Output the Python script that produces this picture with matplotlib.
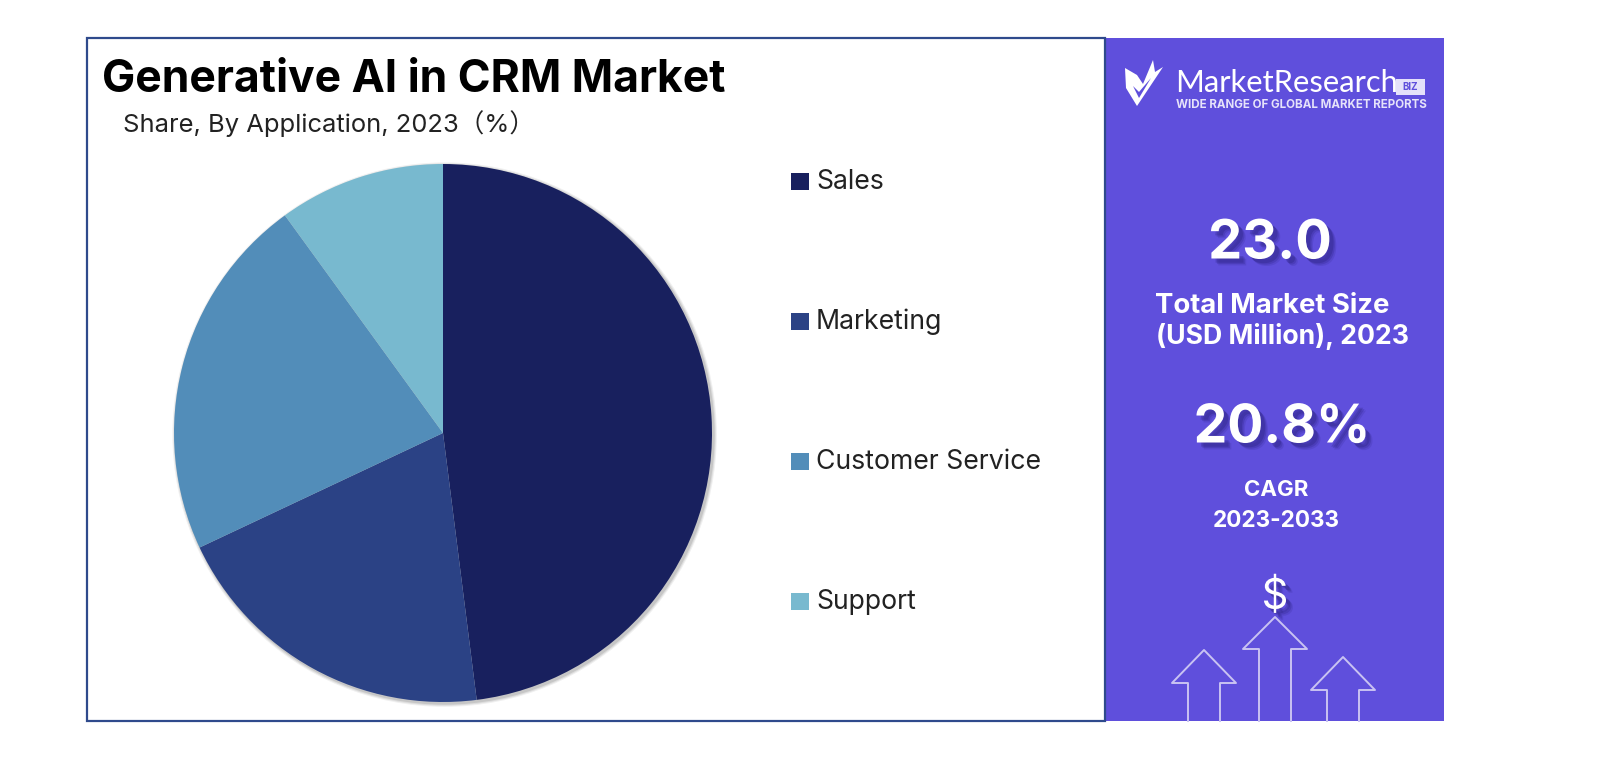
import matplotlib
matplotlib.use('Agg')
import matplotlib.pyplot as plt
import matplotlib.patheffects as pe
from matplotlib.patches import Rectangle, Polygon, Circle

# values
categories = ['Sales', 'Marketing', 'Customer Service', 'Support']
shares = [48, 20, 22, 10]
colors = ['#18205E', '#2B4285', '#528DB9', '#78B9CF']

title = 'Generative AI in CRM Market'
subtitle = 'Share, By Application, 2023（%）'
market_size = '23.0'
market_label = ['Total Market Size', '(USD Million), 2023']
cagr = '20.8%'
cagr_label = ['CAGR', '2023-2033']

plt.rcParams['font.family'] = ['Inter', 'Noto Sans CJK SC', 'DejaVu Sans']

fig = plt.figure(figsize=(16, 7.72), dpi=100, facecolor='white')

# pixel canvas for frame, panel and texts
bg = fig.add_axes([0, 0, 1, 1])
bg.set_xlim(0, 1600)
bg.set_ylim(772, 0)
bg.axis('off')

PURPLE = '#5F4FDC'
bg.add_patch(Rectangle((1106, 38), 338, 683, fc=PURPLE, ec='none'))
bg.add_patch(Rectangle((87, 38), 1018, 683, fc='white', ec='#2F4A8C', lw=1.6))

bg.text(102, 80, title, fontsize=32, fontweight='bold', color='black', va='center', ha='left')
bg.text(123, 124, subtitle, fontsize=18.4, color='#222222', va='center', ha='left')

# pie, with a soft shadow behind the whole disc
cx, cy, r = 443, 433, 269
pie_ax = fig.add_axes([(cx - r) / 1600, 1 - (cy + r) / 772, 2 * r / 1600, 2 * r / 772])
pie_ax.patch.set_alpha(0)
pie_ax.set_clip_on(False)
for grow, a in [(1.012, 0.06), (1.008, 0.08), (1.004, 0.10)]:
    pie_ax.add_patch(Circle((0.006, -0.006), grow, fc='black', ec='none', alpha=a, clip_on=False))
wedges, _ = pie_ax.pie(shares, colors=colors, startangle=90, counterclock=False, radius=1.0,
                       wedgeprops={'linewidth': 0})
pie_ax.set_xlim(-1, 1)
pie_ax.set_ylim(-1, 1)

# legend
legend_y = [181, 321, 461, 601]
for name, col, y in zip(categories, colors, legend_y):
    bg.add_patch(Rectangle((791, y - 8), 18, 17, fc=col, ec='none'))
    bg.text(816, y + 1, name, fontsize=19.2, color='#222222', va='center', ha='left')

# right panel texts, the shadows are soft in the reference
big = [pe.SimplePatchShadow(offset=(5, -5), alpha=0.12, shadow_rgbFace='#1B1464'),
       pe.SimplePatchShadow(offset=(4, -4), alpha=0.18, shadow_rgbFace='#1B1464'),
       pe.SimplePatchShadow(offset=(3, -3), alpha=0.22, shadow_rgbFace='#1B1464'),
       pe.Normal()]
bg.text(1270, 244, market_size, fontsize=39, fontweight='bold', color='white', ha='center', va='center', path_effects=big)
bg.text(1272, 306, market_label[0], fontsize=19.8, fontweight='bold', color='white', ha='center', va='center')
bg.text(1283, 337, market_label[1], fontsize=19.2, fontweight='bold', color='white', ha='center', va='center')
bg.text(1282, 428, cagr, fontsize=38.5, fontweight='bold', color='white', ha='center', va='center', path_effects=big)
bg.text(1276, 490, cagr_label[0], fontsize=16, fontweight='bold', color='white', ha='center', va='center')
bg.text(1276, 521, cagr_label[1], fontsize=16.2, fontweight='bold', color='white', ha='center', va='center')
bg.text(1275, 597, '$', fontsize=30, color='white', ha='center', va='center', path_effects=big)

# logo
bg.add_patch(Polygon([(1125, 68), (1137, 75), (1143, 84), (1153, 60), (1155, 72), (1163, 67),
                      (1137, 106), (1126, 88)], closed=True, fc='white', ec='none'))
bg.add_patch(Polygon([(1133, 86), (1139, 92), (1151, 78), (1139, 98)], closed=True, fc=PURPLE, ec='none'))
bg.text(1175, 83, 'MarketResearch', fontsize=22.3, color='white', va='center', ha='left', family=['Lato'])
bg.add_patch(Rectangle((1396, 79), 29, 16, fc='#E4E1FA', ec='none'))
bg.text(1410.5, 87, 'BIZ', fontsize=7, fontweight='bold', color=PURPLE, va='center', ha='center')
bg.text(1176, 104.5, 'WIDE RANGE OF GLOBAL MARKET REPORTS', fontsize=8.35, fontweight='bold', color='#E6E3FA',
        va='center', ha='left')

# outline arrows at the bottom
line = {'color': '#C9C3F2', 'lw': 1.4}
base = 721
for x, tip, shoulder in [(1204, 650, 683), (1275, 617, 649), (1343, 657, 690)]:
    half_stem = 16
    half_head = 32
    xs = [x - half_stem, x - half_stem, x - half_head, x, x + half_head, x + half_stem, x + half_stem]
    ys = [base, shoulder, shoulder, tip, shoulder, shoulder, base]
    bg.plot(xs, ys, **line)

fig.savefig('out.png', dpi=100)
